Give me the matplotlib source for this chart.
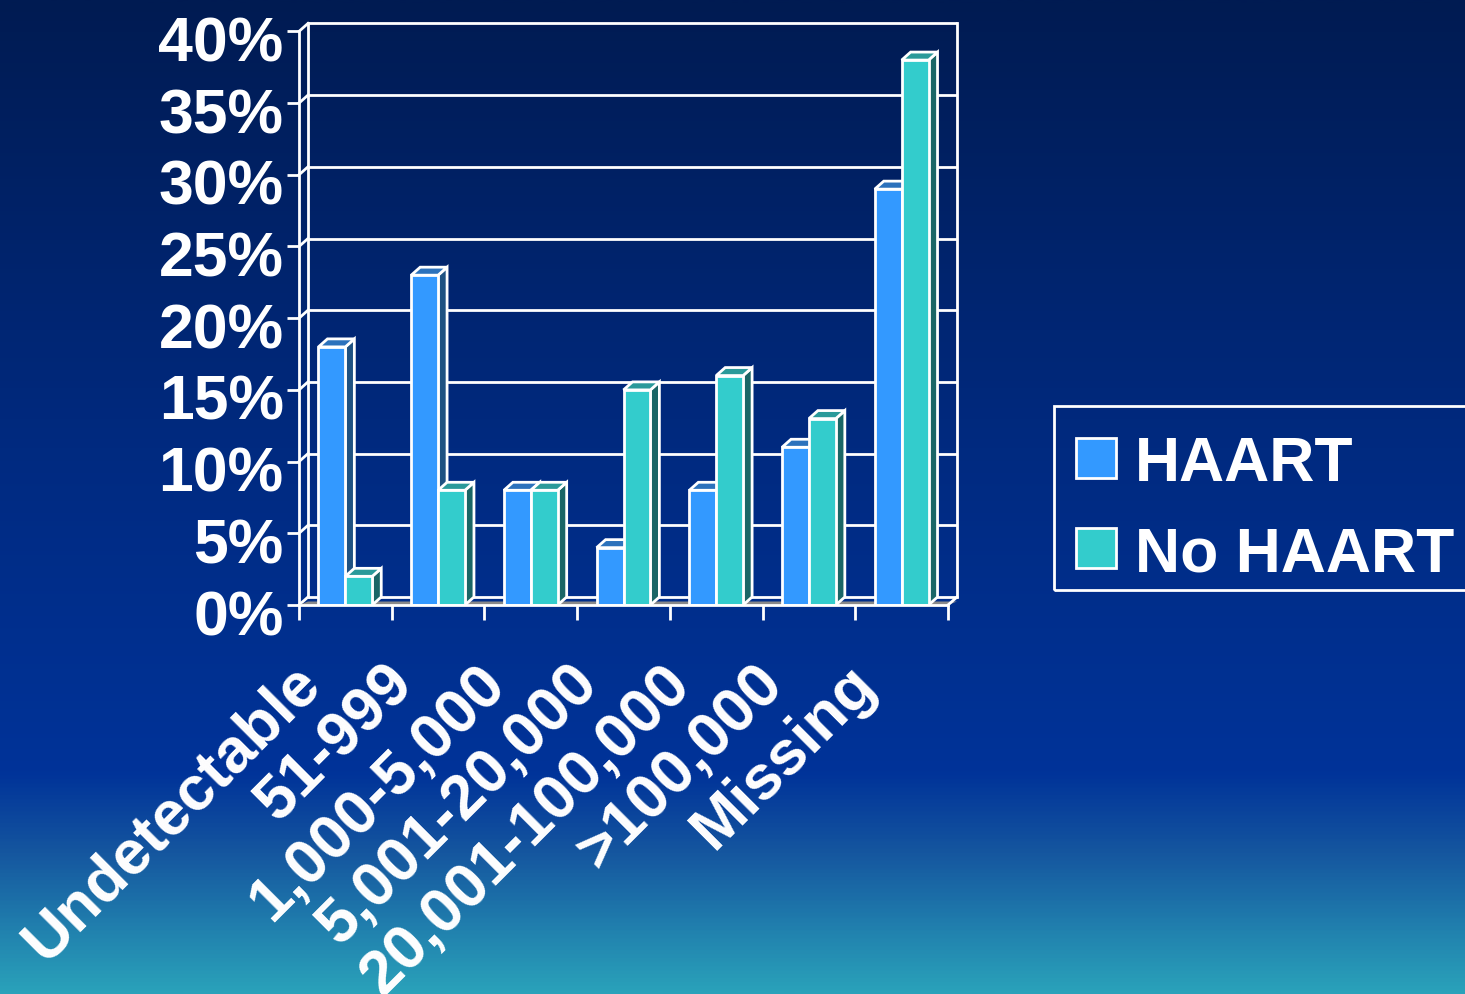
import numpy as np
import matplotlib
matplotlib.use("Agg")
import matplotlib.pyplot as plt
from matplotlib.patches import Polygon, Rectangle
from matplotlib.colors import LinearSegmentedColormap
import matplotlib.transforms as mtransforms

# ---------------- data ----------------
categories = ["Undetectable", "51-999", "1,000-5,000", "5,001-20,000",
              "20,001-100,000", ">100,000", "Missing"]
series_names = ["HAART", "No HAART"]
haart = [18, 23, 8, 4, 8, 11, 29]
no_haart = [2, 8, 8, 15, 16, 13, 38]
y_ticks = [0, 5, 10, 15, 20, 25, 30, 35, 40]
y_tick_labels = [f"{v}%" for v in y_ticks]

# ---------------- styling ----------------
plt.rcParams['font.family'] = ['Liberation Sans', 'DejaVu Sans']
W, H = 1465, 994
DPI = 100
fig = plt.figure(figsize=(W / DPI, H / DPI), dpi=DPI)

front_cols = ["#3399FF", "#33CCCC"]
side_cols = ["#1F5282", "#1A6666"]
top_cols = ["#2C72BC", "#2A9A9A"]

# background gradient
bg = fig.add_axes([0, 0, 1, 1], zorder=-10)
cmap = LinearSegmentedColormap.from_list(
    "bg", [(0.0, "#001B52"), (0.45, "#002A80"), (0.78, "#003399"),
           (0.86, "#15569F"), (1.0, "#2AA2BA")])
grad = np.linspace(0, 1, 500).reshape(-1, 1)
bg.imshow(grad, aspect="auto", cmap=cmap, extent=[0, 1, 0, 1], origin="upper")
bg.set_axis_off()

# geometry (pixels)
x_front0, x_front7 = 299, 948
y_zero = 605
px_per_cat = (x_front7 - x_front0) / 7
px_per_pct = 14.34
dx_px, dy_px = 9, 8
dxu = dx_px / px_per_cat
dyu = dy_px / px_per_pct
ymax = 40 + dyu
xmax = 7 + dxu

ax_w = xmax * px_per_cat
ax_h = ymax * px_per_pct
ax = fig.add_axes([x_front0 / W, (H - y_zero) / H, ax_w / W, ax_h / H])
ax.set_xlim(0, xmax)
ax.set_ylim(0, ymax)
ax.patch.set_alpha(0)
for s in ax.spines.values():
    s.set_visible(False)

lw = 2.0
wc = "white"
# floor (thin gray slab)
floor_h = 3.5 / px_per_pct
ax.add_patch(Polygon([(0, 0), (7, 0), (7 + dxu, floor_h), (dxu, floor_h)],
                     closed=True, facecolor="#8A8A8A", edgecolor="none", zorder=1))

# back wall / left wall grid
for v in y_ticks:
    ax.plot([dxu, 7 + dxu], [v + dyu, v + dyu], color=wc, lw=lw, zorder=0.5,
            clip_on=False, solid_capstyle="butt")
    ax.plot([0, dxu], [v, v + dyu], color=wc, lw=lw, zorder=0.5, clip_on=False)
ax.plot([dxu, dxu], [dyu, 40 + dyu], color=wc, lw=lw, zorder=0.5, clip_on=False)
ax.plot([7 + dxu, 7 + dxu], [dyu, 40 + dyu], color=wc, lw=lw, zorder=0.5, clip_on=False)
ax.plot([0, 0], [0, 40], color=wc, lw=lw, zorder=0.6, clip_on=False)

# bars
bar_w = 0.29
start = 0.21
for i in range(len(categories)):
    for k, vals in enumerate([haart, no_haart]):
        v = vals[i]
        x0 = i + start + k * bar_w
        x1 = x0 + bar_w
        z = 2 + i * 0.1 + k * 0.01
        ax.add_patch(Polygon([(x1, 0), (x1 + dxu, dyu), (x1 + dxu, v + dyu), (x1, v)],
                             closed=True, facecolor=side_cols[k], edgecolor=wc,
                             lw=lw, zorder=z, joinstyle="miter"))
        ax.add_patch(Polygon([(x0, v), (x1, v), (x1 + dxu, v + dyu), (x0 + dxu, v + dyu)],
                             closed=True, facecolor=top_cols[k], edgecolor=wc,
                             lw=lw, zorder=z, joinstyle="miter"))
        ax.add_patch(Rectangle((x0, 0), bar_w, v, facecolor=front_cols[k],
                               edgecolor=wc, lw=lw, zorder=z + 0.001,
                               joinstyle="miter"))

# front floor edge
ax.plot([0, 7], [0, 0], color=wc, lw=lw, zorder=5, clip_on=False)
ax.plot([7, 7 + dxu], [0, dyu], color=wc, lw=lw, zorder=5, clip_on=False)

# y axis ticks & labels
ax.set_yticks(y_ticks)
ax.set_yticklabels(y_tick_labels)
ax.tick_params(axis="y", which="major", direction="out", length=9, width=2,
               color=wc, labelcolor=wc, labelsize=45, pad=2)
for lab in ax.get_yticklabels():
    lab.set_fontweight("bold")
    lab.set_transform(lab.get_transform() +
                      mtransforms.ScaledTranslation(0, -7 / DPI, fig.dpi_scale_trans))

# x axis ticks (boundaries) & labels (centers)
ax.set_xticks(range(8))
ax.set_xticklabels([])
ax.tick_params(axis="x", which="major", direction="out", length=11, width=2,
               color=wc)
ax.set_xticks([i + 0.5 for i in range(len(categories))], minor=True)
ax.set_xticklabels(categories, minor=True, rotation=45, ha="right", va="top",
                   fontsize=45, fontweight="bold", color=wc)
ax.tick_params(axis="x", which="minor", length=0, pad=35)
for lab in ax.get_xticklabels(minor=True):
    lab.set_transform(lab.get_transform() +
                      mtransforms.ScaledTranslation(-14 / DPI, 0, fig.dpi_scale_trans))

# legend (manual box at right)
def fx(px):
    return px / W

def fy(py):
    return (H - py) / H

fig.patches.append(Rectangle((fx(1054), fy(590)), fx(1475) - fx(1054), fy(406) - fy(590),
                             transform=fig.transFigure, facecolor="none",
                             edgecolor=wc, lw=2, zorder=5))
leg_rows = [458, 548]
for k, name in enumerate(series_names):
    yc = leg_rows[k]
    fig.text(fx(1135), fy(yc), name, color=wc, fontsize=45, fontweight="bold",
             ha="left", va="center_baseline")
    fig.patches.append(Rectangle((fx(1076), fy(yc + 20)), fx(1116) - fx(1076),
                                 fy(yc - 20) - fy(yc + 20), transform=fig.transFigure,
                                 facecolor=front_cols[k], edgecolor=wc, lw=2, zorder=6))

fig.savefig("out.png", dpi=DPI)
